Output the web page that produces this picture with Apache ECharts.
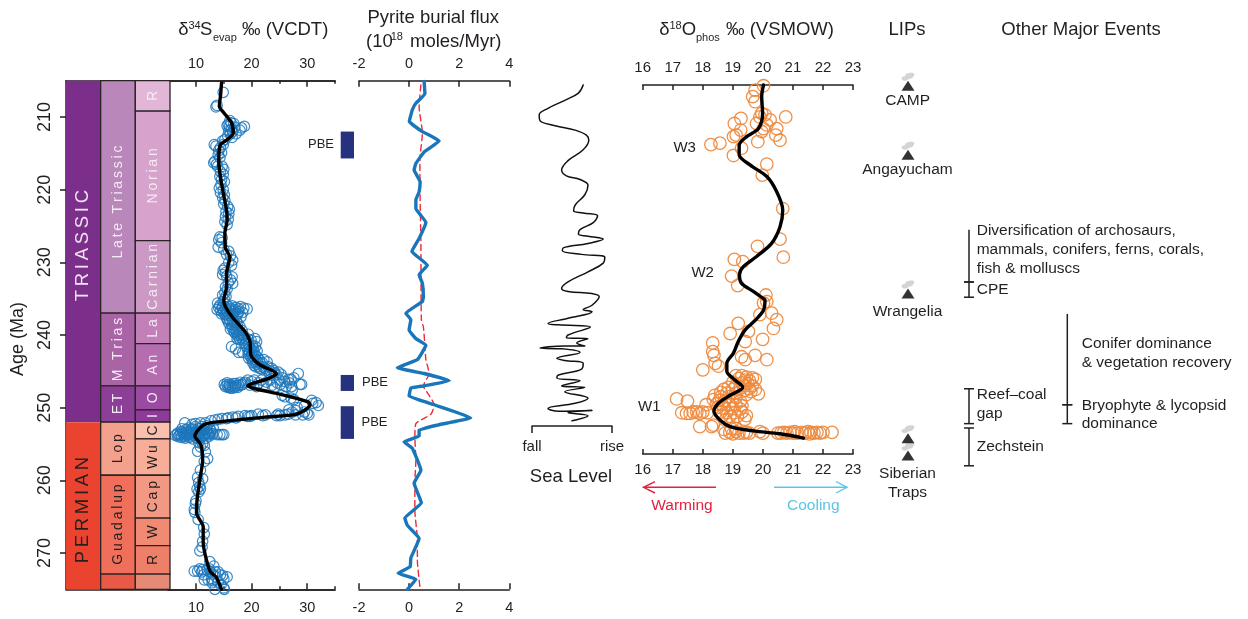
<!DOCTYPE html>
<html><head><meta charset="utf-8">
<style>html,body{margin:0;padding:0;background:#fff}#c{width:1248px;height:619px}</style>
<script src="https://cdn.jsdelivr.net/npm/echarts@6/dist/echarts.min.js"></script>
</head><body><div id="c"></div>
<script>
const ageTicks=[210,220,230,240,250,260,270];
const sTicks=[10,20,30], sMinorTicks=[15,25,35];
const fluxTicks=[-2,0,2,4];
const oTicks=[16,17,18,19,20,21,22,23];
const seaTickLabels=['fall','rise'];

const stratNames=['TRIASSIC','PERMIAN','Late Triassic','M Trias','ET','Lop','Guadalup','','R','Norian','Carnian','La','An','O','I','C','Wu','Cap','W','R',''];
const stratColumn=[0,0,1,1,1,1,1,1,2,2,2,2,2,2,2,2,2,2,2,2,2];
const stratStart=[205,252,205,237,247,252,259.3,272.9,205,209.2,227,237,241.2,247,250.3,252,254.3,259.3,265.2,269,272.9];
const stratEnd=[252,275,237,247,252,259.3,272.9,275,209.2,227,237,241.2,247,250.3,252,254.3,259.3,265.2,269,272.9,275];
const stratLabelAge=[227.7,264.1,221.7,null,null,null,null,null,null,null,null,null,null,null,null,null,null,null,null,null,null];
const stratColors=['#7b2f8b','#ea4430','#b987ba','#a964a6','#8c3f97','#f3a08c','#ef6f5a','#e85a46','#e2b6d6','#d6a3cc','#cb99c4','#c27fb8','#b46eaf','#9a4aa1','#8e3a98','#fbbfae','#f7ad98','#f39883','#f08a72','#ee7f68','#e58a74'];
const stratTextColors=['#efe3ef','#231f20','#f5ebf5','#f5ebf5','#f5ebf5','#231f20','#231f20','#231f20','#f5ebf5','#f5ebf5','#f5ebf5','#f5ebf5','#f5ebf5','#f5ebf5','#f5ebf5','#231f20','#231f20','#231f20','#231f20','#231f20','#231f20'];

const sCurve=[[14.6,205.3],[14.4,207.2],[14.2,208.5],[15,209.4],[16.4,210.8],[16.7,212.2],[15.5,213.2],[14.4,213.8],[14.1,215.9],[14.3,217.7],[14.8,220],[15.5,222.8],[15.6,224.2],[15.2,226],[15.3,228],[16.1,229.3],[15.5,231.5],[15.5,233.4],[15,235.2],[15.3,236.1],[16.7,237.7],[18.8,239.5],[19.7,240.9],[19.9,242.8],[21.5,244.1],[24.5,245.3],[23,246],[19.3,247],[20.6,247.4],[25.4,248.2],[30.2,249.2],[30.5,249.6],[28.1,250.9],[22.4,251.3],[13.4,252],[11.3,252.4],[9.8,253.9],[10.9,255.1],[11.2,257.2],[10.7,259.9],[10.2,262.7],[10.1,264.5],[11.3,266.4],[11.3,268.6],[11.9,271],[12.6,272.6],[13.6,273.3],[14.6,275]];
const sPointsUpper=[[14.9,206.6],[13.8,208.4],[13.6,208.6],[16.1,210.5],[16.3,210.8],[16.8,210.9],[15.8,211],[15.6,211.2],[16,211.3],[18.7,211.3],[18.2,211.5],[17.9,211.8],[17,211.4],[16.4,211.7],[15.9,211.9],[16.6,212],[16.2,212.3],[17.2,212.3],[15.7,212.6],[16.5,212.8],[15.2,213.1],[14.8,213.3],[13.3,213.8],[13.6,214],[14.9,213.8],[14.4,214.2],[14.1,214.6],[14.6,214.9],[14,215.2],[14.3,215.6],[13.4,216.1],[13.2,216.3],[13.7,216.5],[13.9,216.8],[14.7,216.8],[15,217.2],[14.4,217.5],[14.9,217.9],[14.3,218.2],[14.6,218.6],[15.1,218.9],[14.5,219.3],[14.2,219.8],[14.9,220],[14.4,220.4],[15.1,220.7],[14.8,221.1],[15.2,221.5],[15,222],[15.7,222.3],[16,222.7],[15.4,223],[15.9,223.3],[15.3,223.7],[15.8,224.1],[15.2,224.4],[15.6,224.8],[14.3,226.5],[14.1,226.9],[14.7,226.6],[14.6,227.3],[14,227.9],[15,228.2],[15.9,228.5],[15.5,228.9],[16.2,229.1],[16.6,229.7],[15.9,230],[16.4,230.4],[15.2,230.8],[14.9,231.1],[15.3,231.4],[14.8,231.7],[15.5,231.9],[16.5,232],[16.2,232.4],[15.8,232.8],[16.6,232.9],[15.3,233.4],[15.6,233.7],[15.2,234.2],[14.8,234.5],[15.4,234.7],[15.1,235.1],[14.9,235.4]];
const sPointsMiddle=[[13.9,235.6],[14.3,235.9],[14.8,236],[15.4,235.8],[15.9,236.1],[16.5,236],[17.2,236.2],[18,236.1],[18.6,236.3],[19.2,236.4],[13.8,236.5],[14.4,236.6],[15,236.6],[15.6,236.7],[16.2,236.7],[16.9,236.8],[17.7,236.8],[18.4,236.9],[14.6,237.1],[15.2,237.2],[15.8,237.3],[16.5,237.3],[17.2,237.4],[18.1,237.5],[15.5,237.7],[16,237.9],[16.6,238],[17.3,238.1],[15.9,238.4],[16.5,238.6],[17.1,238.7],[17.9,238.8],[16.5,239],[17,239.2],[17.6,239.4],[18.3,239.4],[17,239.7],[17.4,240],[18,240.1],[18.6,240.1],[19.4,239.9],[17.4,240.5],[17.9,240.6],[18.5,240.7],[19.1,240.8],[19.9,240.7],[20.6,240.5],[20.9,240.9],[18.9,241.2],[19.5,241.3],[20.2,241.4],[20.7,241.6],[16.4,241.6],[17.1,241.9],[17.7,242.4],[18.4,242.4],[19.3,242],[19.9,242],[20.4,242.3],[21,242.2],[19.4,242.6],[20,242.8],[20.7,242.8],[19.5,243.2],[20.1,243.4],[20.7,243.4],[21.4,243.4],[22.2,243.4],[22.8,243.7],[20.2,243.8],[20.9,244],[21.6,243.9],[20.5,244.2],[21.3,244.4],[22.1,244.4],[23,244.4],[23.6,244.6],[21.7,244.7],[22.7,244.8],[24,244.9],[24.8,245.1],[23.2,245.2],[24.4,245.4],[25.3,245.4],[15.1,246.8],[15.3,247.1],[15.6,246.9],[15.8,247.2],[16,246.8],[16.2,247.3],[16.5,247],[16.7,246.7],[17,247.2],[17.2,246.7],[17.6,246.9],[18,246.5],[18.4,246.8],[18.9,246.5],[19.3,246.2],[19.7,246.9],[20,246.4],[20.5,246.2],[20.9,247.1],[21.3,246.6],[21.8,246.2],[22.2,246.9],[22.7,246.5],[23.3,246.2],[23.7,246.9],[24.1,247.2],[24.6,246.6],[25,246.2],[25.2,246.8],[25.6,245.9],[26,246.4],[26.2,247.1],[26.6,246.1],[26.8,246.6],[27.1,246.1],[27.2,247.1],[27.6,245.9],[28.4,245.3],[28.7,246.8],[27.3,247.6],[29,246.8],[25.5,248.3],[26,248.5],[27.1,248.7],[27.6,248.9]];
const sPointsDense=[[14.1,236.2],[14.7,236.3],[15.3,236.3],[15.9,236.4],[16.5,236.4],[17.1,236.5],[17.7,236.4],[14.9,236.9],[15.5,237],[16.1,237],[16.8,237.1],[17.5,237.1],[15.7,238],[16.3,238.2],[16.9,238.3],[17.5,238.4],[16.2,239.2],[16.8,239.5],[17.3,239.6],[17.8,239.7],[18.3,240],[17.6,240.3],[18.2,240.4],[18.8,240.4],[19.4,240.6],[19.1,241.6],[19.7,241.7],[20.3,241.8],[19.6,242.3],[20.2,242.5],[19.8,243],[20.4,243.1],[21,243],[20.4,243.6],[21.1,243.7],[21.9,243.8],[20.8,244.4],[21.5,244.6],[22.4,244.6],[23.4,245],[24.1,245.2],[6.6,253.7],[7,253.8],[7.3,253.3],[7.7,253.6],[8,254],[8.4,253.7],[8.8,253.4],[9.1,253.9],[9.5,253.5],[9.9,253.4],[10.3,253.9],[10.7,253.5],[11.1,253.2],[11.5,253.8],[11.9,253.4],[12.3,253.7],[12.6,253.5],[8.2,253],[9.2,252.9],[10.4,252.9],[11.6,252.9],[12.5,252.9],[15.6,246.6],[16.1,247.1],[16.6,247.3],[17.1,247],[17.5,247.2],[18.1,246.9],[18.6,246.6]];
const sPointsLower=[[30.8,249],[31.6,249.3],[32,249.7],[31,249.4],[29.5,249.8],[28.2,250],[28,250.4],[27.9,251],[29.2,251],[30,250.8],[29.5,250.6],[30.3,251],[26.7,250.3],[27.3,250.6],[26.6,250.9],[26,251],[24.8,250.9],[25.1,251.1],[24.5,251.1],[22.5,251],[22,251.1],[21.2,250.9],[20,251.1],[19.7,251.2],[19.3,251.2],[18.8,251.1],[17.6,251.2],[17.2,251.4],[16.6,251.3],[15.8,251.4],[15.5,251.5],[14.7,251.5],[14,251.6],[13.4,251.7],[12.7,251.8],[11.7,252.1],[10.8,252.1],[9.9,252.2],[9.3,252.3],[8,252.1],[6.3,253.8],[6.7,253.5],[6.8,254],[7.2,253.6],[7.4,254.1],[7.6,253.3],[7.9,253.8],[8.1,254.2],[8.3,253.4],[8.6,253.7],[8.8,254.1],[9,253.2],[9.2,253.6],[9.4,254.3],[9.6,253],[9.8,253.8],[10,254.1],[10.2,253.2],[10.4,253.7],[10.6,254.3],[10.8,252.9],[11,253.5],[11.2,254],[11.4,253.1],[11.6,253.6],[11.8,254.2],[12,253],[12.2,253.5],[12.4,253.9],[12.7,253.2],[13,253.6],[7.5,252.9],[8.7,252.8],[9.9,252.6],[11,252.6],[12,252.5],[13.1,252.8],[13.8,253.7],[14.3,253.7],[14.7,253.7],[15,253.7],[10.5,254.8],[11.2,255],[10.8,255.4],[11.5,255.2],[10.3,256],[11.7,256.1],[12.1,257],[11.5,257.4],[10.8,258.6],[10.3,259.6],[11.2,259.8],[10.5,260.3],[10.7,260.8],[10.8,261.2],[10.2,261.2],[10.5,261.6],[10,262.8],[9.9,263.2],[9.7,264],[9.8,264.4],[10.4,265.4],[11.4,266.5],[11.5,267.4],[11.2,268.4],[11.1,269.2],[10.7,269.7],[12.5,271.2],[13.2,271.8],[12.4,272.2],[12,272.3],[9.7,272.5],[10.3,272.5],[10.7,272.2],[11,272.6],[11.4,273],[11.2,272.3],[12.6,272.6],[13,272.9],[13.5,272.6],[14,272.6],[14.4,273],[14.8,273.1],[15.6,273.3],[15,273.6],[13.6,273.3],[12.8,273.5],[12.2,273.7],[11.5,273.7],[13,273.8],[12.9,274.1],[14,274],[14.5,274.4],[15,274.8],[13.4,275],[15.1,275]];

const fluxCurve=[[0.6,205.1],[0.63,206.8],[0.27,208.1],[0.13,209],[0.01,210.6],[0.53,212],[1.2,213.3],[0.6,214.8],[0.27,216.4],[0.2,217.3],[0.44,218.9],[0.4,220.3],[0.27,221.4],[0.27,222.6],[0.67,224.5],[0.4,226.7],[0.11,228.5],[0.33,229.2],[0.73,230.4],[0.4,231.7],[0.53,232.9],[0.57,234.7],[0.53,235.4],[-0.13,237],[0.07,237.9],[0,239.3],[0.27,240.5],[0.67,241.4],[0.33,243.4],[-0.47,244.5],[0.6,245.3],[1.6,246.3],[0.6,247],[0.07,247.3],[0,248.4],[1,249.6],[2.46,251.4],[1.13,252.4],[0.4,253.1],[0.4,253.9],[-0.2,254.7],[0.13,255.6],[0.47,258.6],[0.2,260.4],[0.49,263.1],[-0.17,265.2],[-0.07,266.2],[0.4,268],[0.07,270.7],[0.04,271.9],[-0.44,272.8],[0.27,273.6],[-0.07,275]];
const fluxTrend=[[0.47,205.6],[0.4,208.6],[0.53,212.2],[0.43,215.9],[0.44,221.4],[0.47,226.9],[0.49,237.9],[0.57,238.9],[0.63,241.4],[0.67,243.4],[0.8,245.3],[0.57,247],[0.8,248.3],[1,249.6],[0.87,250.9],[0.27,252.2],[0.23,254],[0.27,257.2],[0.23,260.4],[0.23,264.1],[0.33,268.2],[0.33,271],[0.43,274.6]];
const pbeStart=[212,245.5,249.8], pbeEnd=[215.7,247.7,254.3];

const seaLevel=[[0.64,205.6],[0.58,206.7],[0.41,207.7],[0.2,208.8],[0.09,209.7],[0.1,210.5],[0.29,211.2],[0.54,211.8],[0.68,212.5],[0.71,213.2],[0.64,214.5],[0.45,216],[0.37,217.3],[0.43,218.1],[0.6,218.6],[0.7,219.4],[0.66,220.7],[0.54,222.1],[0.52,222.9],[0.64,223.2],[0.82,223.6],[0.77,224.5],[0.6,225.5],[0.58,226.1],[0.7,226.4],[0.89,226.8],[0.7,227.4],[0.39,228],[0.38,228.4],[0.62,228.9],[0.91,229.3],[0.89,230.1],[0.7,231.3],[0.45,232.7],[0.37,233.6],[0.45,234],[0.75,234.3],[0.84,234.7],[0.75,235.9],[0.64,236.5],[0.75,236.8],[0.45,237.7],[0.2,238.4],[0.33,238.6],[0.73,238.9],[0.45,240],[0.43,240.4],[0.7,240.5],[0.56,241.1],[0.66,241.5],[0.41,241.5],[0.1,241.8],[0.37,241.9],[0.6,242.4],[0.31,243.2],[0.41,243.5],[0.64,243.9],[0.62,244.7],[0.33,245.5],[0.31,245.9],[0.6,246.3],[0.37,247],[0.66,247.2],[0.41,247.8],[0.7,248.7],[0.54,249.4],[0.2,250.1],[0.33,250.5],[0.75,250.4],[0.45,250.7],[0.7,251.1],[0.5,251.8]];

const oCurve=[[20.02,205.6],[19.96,207.2],[19.99,209.5],[19.85,211.6],[19.46,212.7],[19.21,213.9],[19.21,215.2],[19.57,216.6],[20.13,218.2],[20.46,220.3],[20.66,222.8],[20.57,225.1],[20.29,227.4],[19.79,229.2],[19.35,230.6],[19.22,231.7],[19.29,232.9],[19.68,234],[20.02,235],[20.07,235.2],[20.02,236.6],[19.74,238],[19.41,239.3],[19.18,240.9],[19.02,242.5],[18.8,243.9],[18.8,245],[19.07,246.2],[19.33,247.2],[18.91,248.3],[18.52,249.4],[18.37,250.5],[18.57,251.7],[18.91,252.6],[19.68,253.2],[20.57,253.6],[21.35,254.2]];
const oPointsUpper=[[20.02,205.7],[19.74,206.3],[19.66,207.2],[19.74,207.9],[19.96,209.5],[20.07,209.7],[19.9,210],[20.24,210.4],[20.76,210],[19.27,210.2],[19.05,210.9],[19.79,210.9],[20.13,211.1],[20.02,211.6],[20.46,211.6],[19.26,211.8],[19.11,212.5],[19.02,212.7],[19.96,212],[20.43,212.5],[20.57,213.2],[19.83,213.4],[18.57,213.6],[18.27,213.8],[19.29,214.3],[19.02,215.3],[20.13,216.5],[19.98,218],[20.66,222.6],[20.57,226.8],[19.82,227.8],[20.68,229.3],[19.05,229.6],[19.33,229.9],[18.96,231.9],[19.16,233.2],[20.1,234.5],[20.02,235.6],[20.13,235.4],[19.9,237.2],[20.29,237],[20.46,237.9],[20.35,239.1],[19.18,238.4],[19.52,239.5],[18.91,239.8],[19.41,240.9],[19.99,240.6],[18.33,241.1],[18.33,242.3],[18.37,242.8],[19.74,242.8],[20.13,243.4],[19.29,243],[19.41,243.4],[18.41,243.9],[18.52,244.3],[18,244.8]];
const oPointsLower=[[19.1,245.6],[19.3,245.6],[19.45,245.8],[19.65,245.9],[19.2,246],[19.4,246.2],[19.55,246.3],[19.75,246.1],[19,246.5],[19.3,246.6],[19.5,246.7],[19.1,247],[19.4,247],[19.65,247],[18.85,247.2],[19.25,247.3],[19.55,247.4],[19.75,247.5],[18.7,247.5],[19,247.5],[19.35,247.7],[19.6,247.8],[19.85,248.1],[18.6,247.9],[18.8,248],[19.1,248],[19.45,248.2],[18.4,248.3],[18.6,248.5],[18.85,248.5],[19.1,248.6],[18.35,248.9],[18.55,249],[18.75,249],[19,249],[19.25,249.1],[18.45,249.5],[18.65,249.6],[18.9,249.6],[19.1,249.6],[19.3,249.7],[18.5,250],[18.7,250.1],[19,250.1],[19.25,250.2],[18.6,250.6],[18.8,250.7],[19.05,250.7],[19.3,250.6],[18.65,251.1],[18.9,251.2],[19.15,251.2],[19.45,251.1],[18.75,251.7],[19,251.8],[19.4,251.6],[17.13,248.8],[17.49,249.1],[18.11,249.6],[17.3,250.7],[17.46,250.8],[17.58,250.8],[17.68,250.6],[17.8,250.6],[17.9,250.8],[18,250.6],[18.15,250.7],[17.9,252.6],[18.29,252.6],[18.35,252.4],[18.7,253],[18.75,253.5],[18.9,253.4],[19,253.6],[19.1,253.3],[19.2,253.5],[19.35,253.5],[19.45,253.4],[19.55,253.5],[18.95,252.9],[19.1,252.9],[19.9,253.3],[20,253.5],[20.5,253.5],[20.6,253.5],[20.7,253.4],[20.8,253.5],[20.9,253.4],[21,253.5],[21.05,253.3],[21.15,253.5],[21.3,253.4],[21.4,253.5],[21.5,253.3],[21.55,253.6],[21.6,253.4],[21.7,253.5],[21.8,253.4],[21.9,253.5],[22,253.4],[22.3,253.4]];

const lipAges=[205.7,215.2,234.3,254.2,256.6];
const eventColumn=[0,0,0,0,1,1];
const eventStart=[225.5,232.7,247.4,252.8,237.1,249.6];
const eventEnd=[232.7,234.8,252.2,258,249.6,252.2];
const eventCapTop=[0,1,1,1,0,1];

const FONT='"Liberation Sans", Arial, sans-serif', INK='#231f20';
const TOP=80.7, H=508.6;
const space=s=>s.split('').join('\u2009');
const mkGrid=(left,width,top=TOP,height=H)=>({left,width,top,height,containLabel:false});
const hiddenX=(gridIndex,min,max)=>({type:'value',gridIndex,min,max,show:false});
const hiddenY=(gridIndex,min=205,max=275)=>({type:'value',gridIndex,min,max,inverse:true,show:false});
const lineSty={color:INK,width:1.5};
const xAx=(gridIndex,position,min,max,opt={})=>Object.assign({type:'value',gridIndex,position,min,max,splitLine:{show:false},
  axisLine:{show:true,onZero:false,lineStyle:lineSty},
  axisTick:{show:false},axisLabel:{show:false}},opt);
const ticks=(values,length,inside=true)=>({show:true,inside,length,customValues:values,lineStyle:lineSty});
const labels=(values,size,margin)=>({show:true,customValues:values,fontFamily:FONT,fontSize:size,color:INK,margin,hideOverlap:false,showMinLabel:true,showMaxLabel:true});

const grids=[
  mkGrid(66,104),
  mkGrid(168.15,166.85),
  mkGrid(359,150.3),
  mkGrid(340.7,13.3),
  mkGrid(532,80,TOP,345.3),
  mkGrid(642.7,210.35,85,369),
  mkGrid(880,56),
  mkGrid(969,98.3)
];
const xAxes=[
  xAx(0,'top',0,3), xAx(0,'bottom',0,3),
  xAx(1,'top',5,35,{axisTick:ticks(sTicks,6),axisLabel:labels(sTicks,14.5,9)}),
  xAx(1,'top',5,35,{axisTick:ticks(sMinorTicks,3)}),
  xAx(1,'bottom',5,35,{axisTick:ticks(sTicks,6),axisLabel:labels(sTicks,14.5,11)}),
  xAx(1,'bottom',5,35,{axisTick:ticks(sMinorTicks,3)}),
  xAx(2,'top',-2,4,{axisTick:ticks(fluxTicks,6),axisLabel:labels(fluxTicks,14.5,9)}),
  xAx(2,'bottom',-2,4,{axisTick:ticks(fluxTicks,6),axisLabel:labels(fluxTicks,14.5,11)}),
  hiddenX(3,0,1),
  xAx(4,'bottom',0,1,{axisTick:ticks([0,1],7,false),axisLabel:Object.assign(labels([0,1],15,13),{formatter:v=>seaTickLabels[v]})}),
  xAx(5,'top',16,23,{axisTick:ticks(oTicks,5),axisLabel:labels(oTicks,15,10)}),
  xAx(5,'bottom',16,23,{axisTick:ticks(oTicks,5),axisLabel:labels(oTicks,15,8)}),
  hiddenX(6,0,1),
  hiddenX(7,0,1)
];
const yAxes=[
  {type:'value',gridIndex:0,min:205,max:275,inverse:true,position:'left',splitLine:{show:false},
   axisLine:{show:true,onZero:false,lineStyle:lineSty},axisTick:ticks(ageTicks,6,false),
   axisLabel:Object.assign(labels(ageTicks,18,12),{rotate:90})},
  hiddenY(1),hiddenY(2),hiddenY(3),hiddenY(4,205,252.52),hiddenY(5,205.6,256.38),hiddenY(6),hiddenY(7)
];

const stratData=stratNames.map((n,i)=>[stratColumn[i],stratStart[i],stratEnd[i],i]);
const stratSeries={type:'custom',xAxisIndex:0,yAxisIndex:0,z:5,clip:false,data:stratData,
  renderItem(p,api){
    const i=api.value(3),c=api.value(0);
    const a=api.coord([c,api.value(1)]),b=api.coord([c+1,api.value(2)]);
    const n=stratNames[i];
    const mid=stratLabelAge[i]===null?(api.value(1)+api.value(2))/2:stratLabelAge[i];
    const t=api.coord([c+0.5,mid]);
    const size=c===0?18.5:14;
    return {type:'group',children:[
      {type:'rect',shape:{x:a[0],y:a[1],width:b[0]-a[0],height:b[1]-a[1]},
       style:{fill:stratColors[i],stroke:c===0?null:'#2b2326',lineWidth:1.3}},
      {type:'text',x:t[0],y:t[1],rotation:Math.PI/2,
       style:{text:space(n),fill:stratTextColors[i],font:size+'px '+FONT,align:'center',verticalAlign:'middle'}}
    ]};
  }};
const circles=(name,data,xi,yi,color,size,bw,op)=>({name,type:'scatter',xAxisIndex:xi,yAxisIndex:yi,data,symbol:'circle',symbolSize:size,clip:false,z:3,
  itemStyle:{color:'rgba(0,0,0,0)',borderColor:color,borderWidth:bw,opacity:op}});
const curve=(name,data,xi,yi,color,w,smooth,extra={})=>({name,type:'line',xAxisIndex:xi,yAxisIndex:yi,data,showSymbol:false,smooth,z:4,clip:false,
  lineStyle:Object.assign({color,width:w,cap:'round',join:'round'},extra)});

const series=[
  stratSeries,
  circles('S points',sPointsUpper,2,1,'#1b75bb',10.5,1.2,.85),
  circles('S points',sPointsMiddle,2,1,'#1b75bb',10.5,1.2,.85),
  circles('S points',sPointsDense,2,1,'#1b75bb',10.5,1.2,.85),
  circles('S points',sPointsLower,2,1,'#1b75bb',10.5,1.2,.85),
  curve('S trend',sCurve,2,1,'#000',3.4,0.25),
  curve('Flux trend',fluxTrend,6,2,'#ea2c3a',1.4,0.2,{type:[6,4]}),
  curve('Pyrite flux',fluxCurve,6,2,'#1a76bb',3.4,0.1),
  {type:'custom',xAxisIndex:8,yAxisIndex:3,clip:false,data:pbeStart.map((s,i)=>[s,pbeEnd[i]]),
   renderItem(p,api){const a=api.coord([0,api.value(0)]),b=api.coord([1,api.value(1)]);
     return {type:'rect',shape:{x:a[0],y:a[1],width:b[0]-a[0],height:b[1]-a[1]},style:{fill:'#27327f'}};}},
  curve('Sea level',seaLevel,9,4,'#111',1.5,0.4),
  circles('O points',oPointsUpper,10,5,'#ee8a3e',12.5,1.3,.95),
  circles('O points',oPointsLower,10,5,'#ee8a3e',12.5,1.3,.95),
  curve('O trend',oCurve,10,5,'#000',3.4,0.3),
  {type:'scatter',xAxisIndex:12,yAxisIndex:6,clip:false,data:lipAges.map(a=>[0.5,a]),symbol:'path://M1 8C-1 6 1 4 4 4C4 1 8 0 11 0C15 0 15 3 13 4C13 6 10 7 8 7C6 9 3 10 1 8Z',
   symbolSize:[13,8],symbolKeepAspect:false,symbolOffset:[0,-9],itemStyle:{color:'#c9c9c9'}},
  {type:'scatter',xAxisIndex:12,yAxisIndex:6,clip:false,data:lipAges.map(a=>[0.5,a]),symbol:'triangle',symbolSize:[13,10],itemStyle:{color:'#000'}},
  {type:'custom',xAxisIndex:13,yAxisIndex:7,clip:false,data:eventStart.map((s,i)=>[eventColumn[i],s,eventEnd[i],eventCapTop[i]]),
   renderItem(p,api){
     const a=api.coord([api.value(0),api.value(1)]),b=api.coord([api.value(0),api.value(2)]);
     const st={stroke:INK,lineWidth:1.5,fill:null};
     const ch=[{type:'line',shape:{x1:a[0],y1:a[1],x2:b[0],y2:b[1]},style:st},
               {type:'line',shape:{x1:b[0]-5,y1:b[1],x2:b[0]+5,y2:b[1]},style:st}];
     if(api.value(3))ch.push({type:'line',shape:{x1:a[0]-5,y1:a[1],x2:a[0]+5,y2:a[1]},style:st});
     return {type:'group',children:ch};
   }}
];

const T=(text,x,y,size,opt={})=>({type:'text',z:20,x,y,style:Object.assign({text,font:size+'px '+FONT,fill:INK,align:'left',verticalAlign:'middle'},opt)});
const C=(text,x,y,size,opt={})=>T(text,x,y,size,Object.assign({align:'center'},opt));
const arrow=(pts,color)=>({type:'polyline',z:20,shape:{points:pts},style:{stroke:color,lineWidth:1.4,fill:null}});
const RED='#e5203f', BLUE='#5cc4e8';
const graphic=[
  Object.assign(T('Age (Ma)',18,339,18,{align:'center'}),{rotation:Math.PI/2}),
  T('δ',178.3,30,18.5),T('34',188.5,26,11),T('S',200,30,18.5),T('evap',213,38,11),T('‰ (VCDT)',242,30,18.5),
  C('Pyrite burial flux',433.3,18.3,18.5),T('(10',366,41.7,18.5),T('18',390.7,37,11),T('moles/Myr)',410,41.7,18.5),
  C('Sea Level',571,477,18.5),
  T('δ',659.3,30,18.5),T('18',669.5,26,11),T('O',681.7,30,18.5),T('phos',696,38,11),T('‰ (VSMOW)',726,30,18.5),
  C('LIPs',907,30,18.5),C('Other Major Events',1081,30,18.5),
  C('PBE',321,144,13),C('PBE',375,382.7,13),C('PBE',374.5,422,13),
  C('W3',684.7,147.7,15),C('W2',702.7,273.3,15),C('W1',649.3,407.3,15),
  C('CAMP',907.7,100.7,15.5),C('Angayucham',907.5,169.3,15.5),C('Wrangelia',907.5,311.7,15.5),C('Siberian',907.5,474,15.5),C('Traps',907.5,492.7,15.5),
  arrow([[716,487.3],[643.5,487.3]],RED),arrow([[655,481.5],[643.5,487.3],[655,493]],RED),
  arrow([[774,487.3],[847,487.3]],BLUE),arrow([[836,481.5],[847,487.3],[836,493]],BLUE),
  C('Warming',682,505.7,15.5,{fill:RED}),C('Cooling',813.3,505.7,15.5,{fill:BLUE}),
  T('Diversification of archosaurs,',976.7,231,15.5),T('mammals, conifers, ferns, corals,',976.7,250,15.5),T('fish & molluscs',976.7,268.5,15.5),T('CPE',976.7,290,15.5),
  T('Conifer dominance',1081.7,344,15.5),T('& vegetation recovery',1081.7,363,15.5),T('Bryophyte & lycopsid',1081.7,406,15.5),T('dominance',1081.7,424,15.5),
  T('Reef–coal',976.7,395,15.5),T('gap',976.7,414,15.5),T('Zechstein',976.7,447,15.5)
];

const chart=echarts.init(document.getElementById('c'),null,{renderer:'canvas'});
chart.setOption({animation:false,backgroundColor:'#fff',grid:grids,xAxis:xAxes,yAxis:yAxes,series,graphic,legend:{show:false},tooltip:{show:false}});
</script></body></html>
